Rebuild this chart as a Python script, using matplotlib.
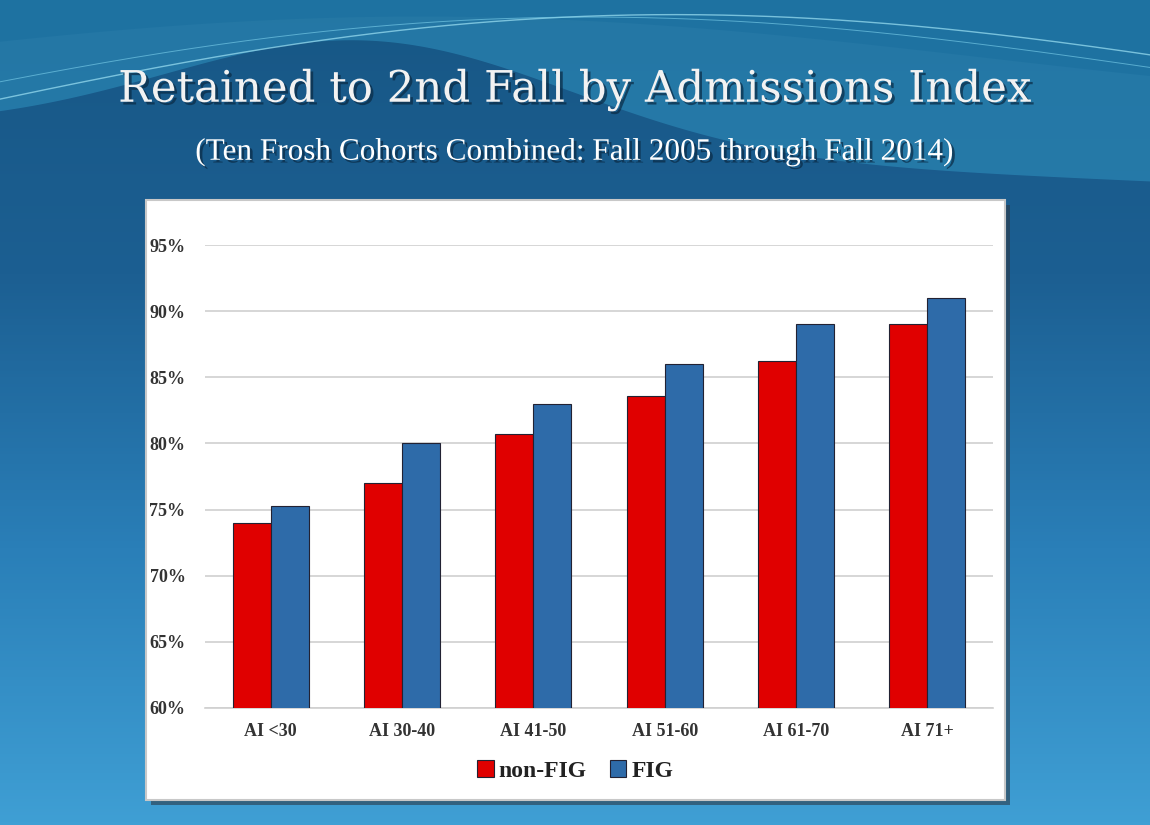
"""
Retention to 2nd fall by admissions index, FIG vs non-FIG, recreated as a
slide-style grouped bar chart.
"""

import numpy as np
import matplotlib
matplotlib.use("Agg")
import matplotlib.pyplot as plt
import matplotlib.patheffects as pe
from matplotlib.patches import Rectangle

# --- Data ---
CATEGORIES = ["AI <30", "AI 30-40", "AI 41-50", "AI 51-60", "AI 61-70", "AI 71+"]
NON_FIG = [74.0, 77.0, 80.7, 83.6, 86.2, 89.0]
FIG = [75.3, 80.0, 83.0, 86.0, 89.0, 91.0]
Y_TICKS = [60, 65, 70, 75, 80, 85, 90, 95]
SERIES_NAMES = ["non-FIG", "FIG"]

TITLE = "Retained to 2nd Fall by Admissions Index"
SUBTITLE = "(Ten Frosh Cohorts Combined: Fall 2005 through Fall 2014)"

RED = "#E00000"
BLUE = "#2E6BA9"
SERIF = ["Liberation Serif", "DejaVu Serif"]
WIDE_SERIF = ["DejaVu Serif"]

fig = plt.figure(figsize=(11.5, 8.25), dpi=100)

# --- Slide background: vertical blue gradient plus a couple of swooshes ---
bg = fig.add_axes([0, 0, 1, 1])
bg.set_xlim(0, 1)
bg.set_ylim(0, 1)
bg.axis("off")
grad = np.linspace(0, 1, 256).reshape(-1, 1)
cmap = matplotlib.colors.LinearSegmentedColormap.from_list(
    "slide", ["#3f9fd4", "#2a7fb8", "#1c5f92", "#175785"])
bg.imshow(grad, extent=[0, 1, 0, 1], origin="lower", aspect="auto", cmap=cmap, zorder=0)

xs = np.linspace(0, 1, 300)
upper = np.full_like(xs, 1.0)
lower = 0.84 + 0.13 * np.exp(-((xs - 0.32) / 0.25) ** 2) - 0.06 * xs
bg.fill_between(xs, lower, upper, color="#2f92bf", alpha=0.55, zorder=1, lw=0)
lower2 = 0.93 + 0.05 * np.sin(xs * 3.2 + 0.4)
bg.fill_between(xs, lower2, upper, color="#1a6f9f", alpha=0.6, zorder=1, lw=0)
bg.plot(xs, 0.86 + 0.1 * np.sin(xs * 2.6 + 0.2) + 0.04 * xs, color="#9fe3f5",
        lw=1.0, alpha=0.7, zorder=2)
bg.plot(xs, 0.87 + 0.09 * np.sin(xs * 2.7 + 0.35) + 0.04 * xs, color="#7fd3ee",
        lw=0.7, alpha=0.6, zorder=2)

# --- White chart panel with drop shadow ---
px0, py0 = 146 / 1150, 1 - 800 / 825
pw, ph = (1005 - 146) / 1150, (800 - 200) / 825
bg.add_patch(Rectangle((px0 + 0.004, py0 - 0.006), pw, ph, color="#2b3a48",
                       alpha=0.6, zorder=3, lw=0))
bg.add_patch(Rectangle((px0, py0), pw, ph, facecolor="white",
                       edgecolor="#c8c8c8", lw=1.5, zorder=4))

# --- Titles with a soft drop shadow ---
shadow = [pe.withSimplePatchShadow(offset=(2, -2), shadow_rgbFace="#0a2a44", alpha=0.7)]
fig.text(0.5, 1 - 90 / 825, TITLE, ha="center", va="center", fontsize=31.3,
         color="#f2f2f2", family=WIDE_SERIF, path_effects=shadow)
fig.text(0.5, 1 - 152 / 825, SUBTITLE, ha="center", va="center", fontsize=22.5,
         color="white", family=SERIF, path_effects=shadow)

# --- Bar chart ---
ax = fig.add_axes([205 / 1150, 1 - 708 / 825, (993 - 205) / 1150, (708 - 245) / 825])
ax.set_zorder(5)
ax.patch.set_alpha(0)

x = np.arange(len(CATEGORIES))
width = 0.29
ax.bar(x - width / 2, NON_FIG, width, color=RED, edgecolor="#222233", lw=0.8,
       label=SERIES_NAMES[0], zorder=3)
ax.bar(x + width / 2, FIG, width, color=BLUE, edgecolor="#222233", lw=0.8,
       label=SERIES_NAMES[1], zorder=3)

ax.set_xlim(-0.5, len(CATEGORIES) - 0.5)
ax.set_ylim(60, 95)
ax.set_yticks(Y_TICKS)
ax.set_yticklabels([f"{t}%" for t in Y_TICKS])
ax.set_xticks(x)
ax.set_xticklabels(CATEGORIES)
ax.grid(axis="y", color="#d0d0d0", lw=1.2, zorder=0)
for side in ["top", "right", "left"]:
    ax.spines[side].set_visible(False)
ax.spines["bottom"].set_color("#d0d0d0")
ax.spines["bottom"].set_linewidth(1.2)
ax.tick_params(axis="both", length=0, labelcolor="#333333")
ax.tick_params(axis="y", pad=14)
ax.tick_params(axis="x", pad=11)
for lab in ax.get_xticklabels() + ax.get_yticklabels():
    lab.set_fontfamily(SERIF)
    lab.set_fontweight("bold")
    lab.set_fontsize(13)

leg = fig.legend(loc="center", bbox_to_anchor=(0.5, 1 - 771 / 825), ncol=2,
                 frameon=False, handlelength=0.7, handleheight=0.7,
                 handletextpad=0.2, columnspacing=1.0,
                 prop={"family": SERIF, "weight": "bold", "size": 17})
for t in leg.get_texts():
    t.set_color("#222222")

fig.savefig("out.png", dpi=100)
